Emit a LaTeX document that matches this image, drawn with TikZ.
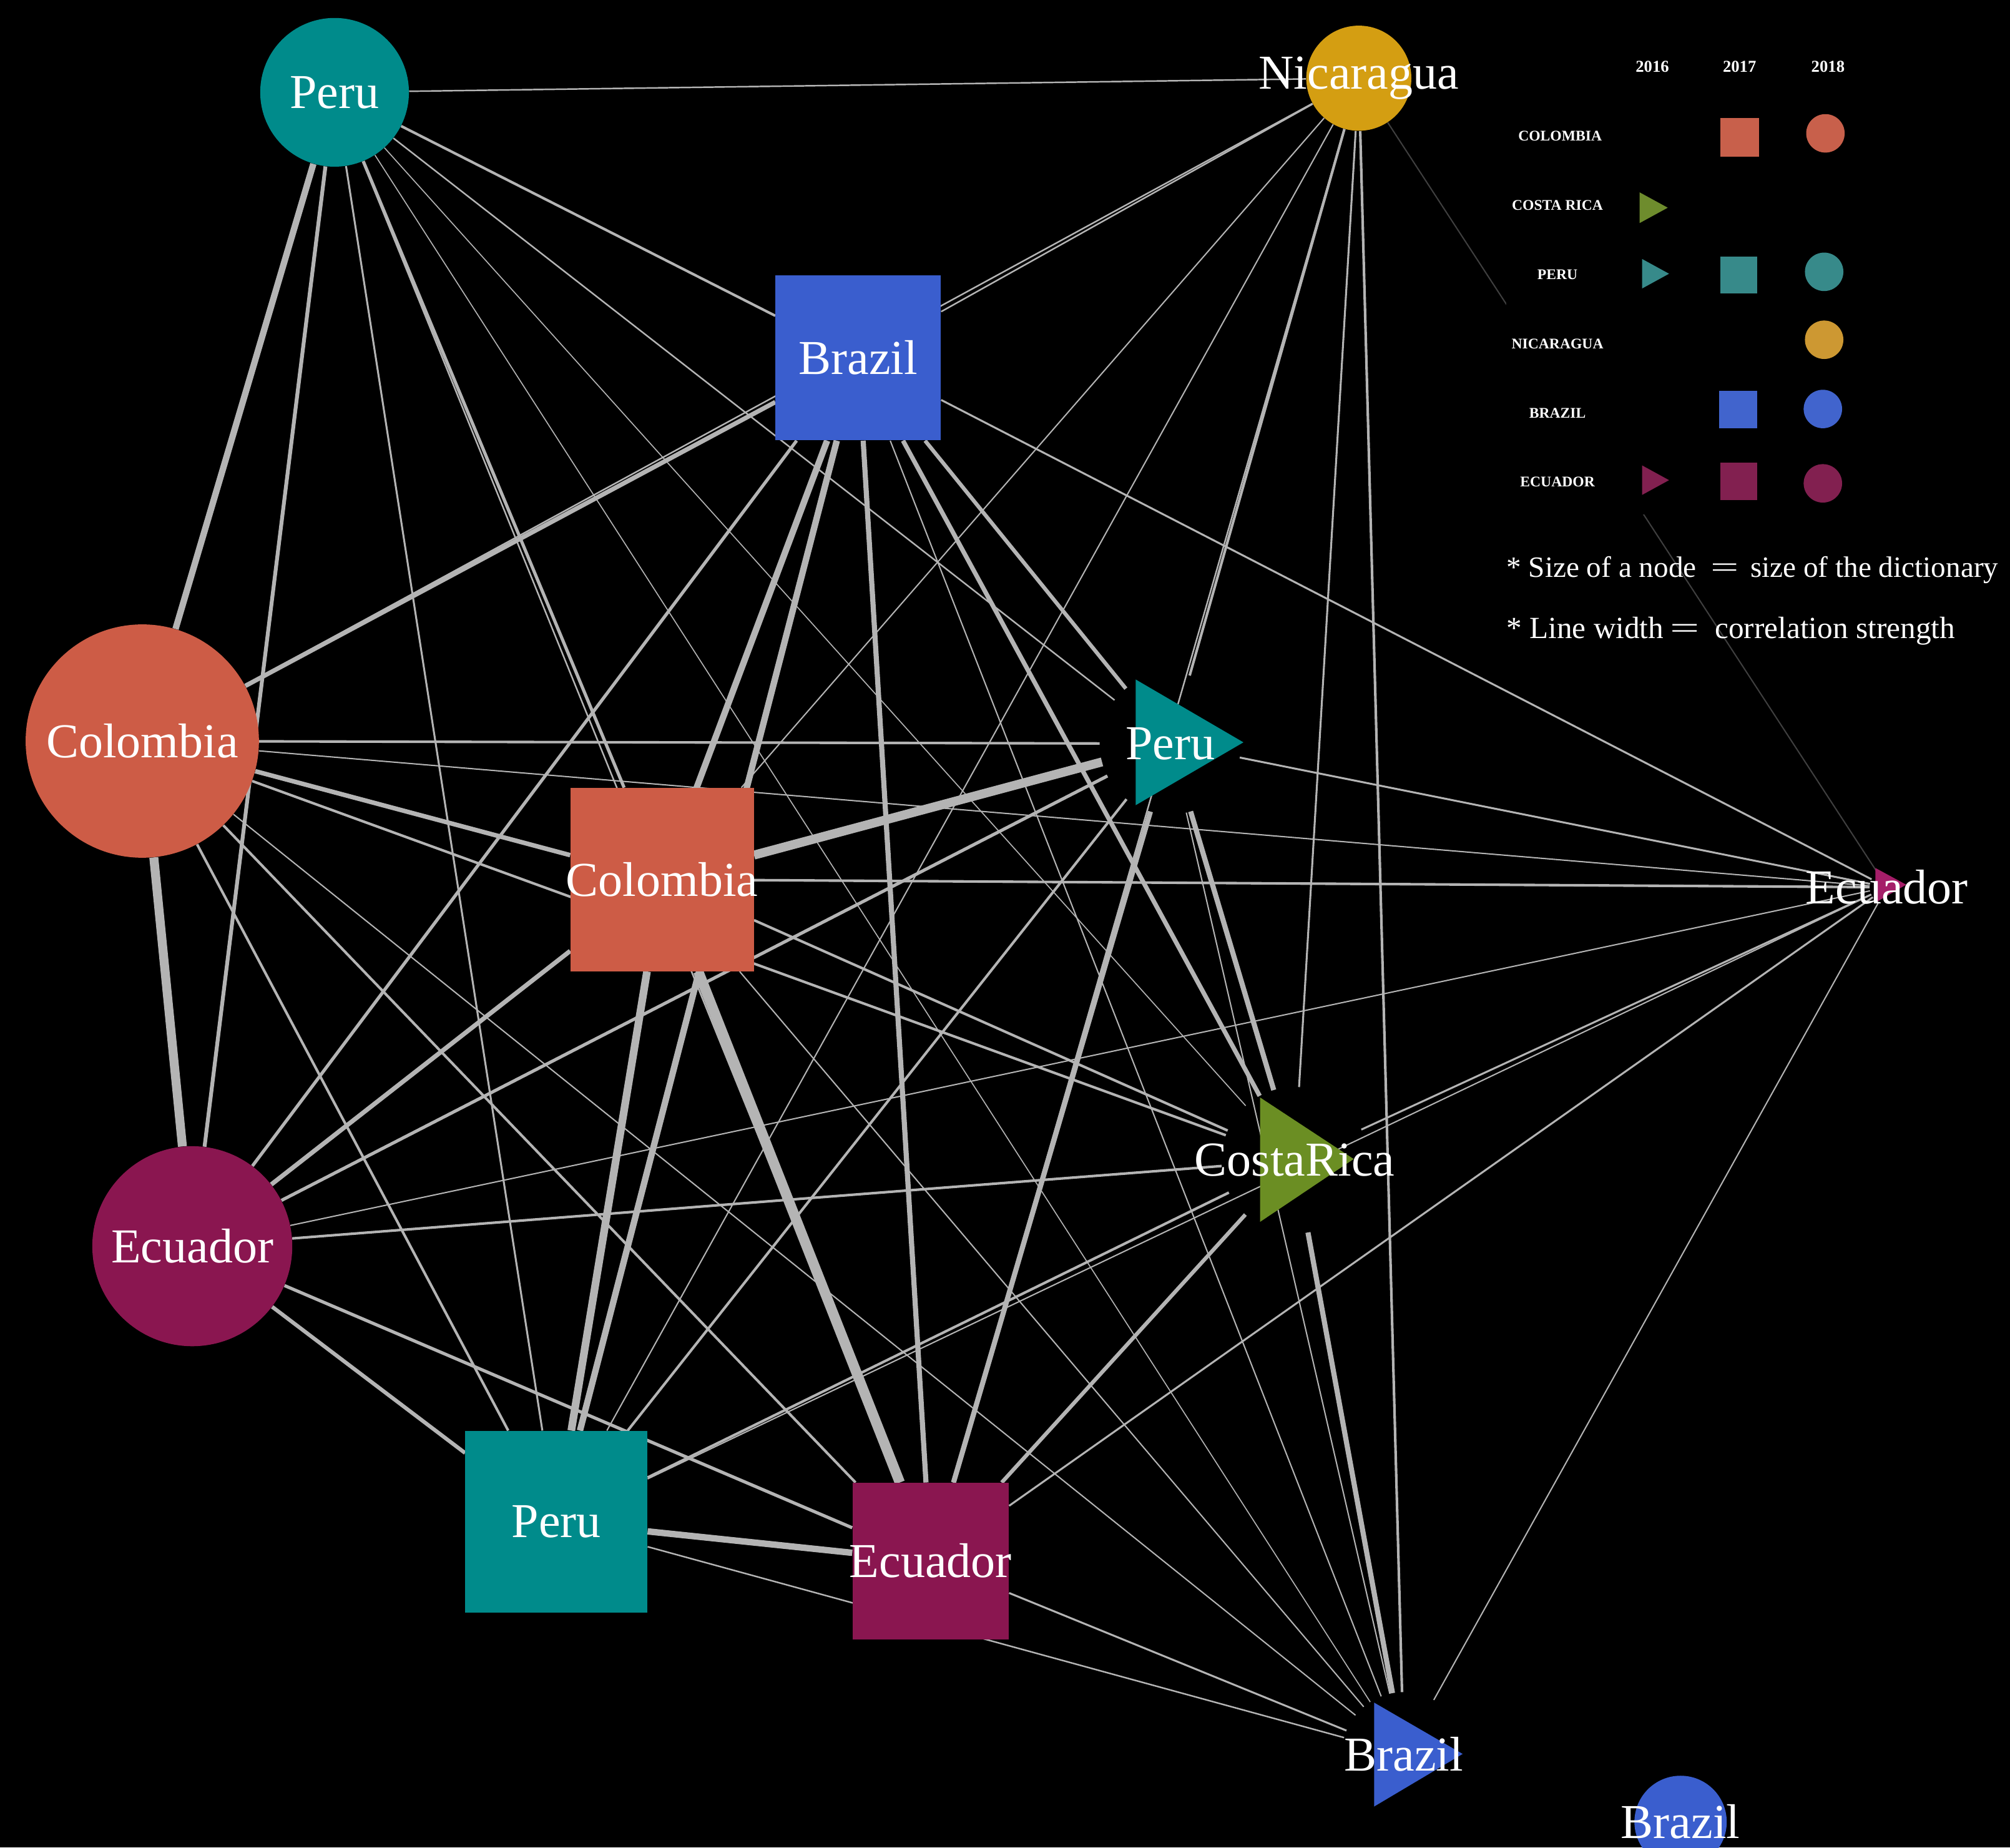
\documentclass[tikz,border=0pt]{standalone}
\usepackage{fontspec}
\setmainfont{Liberation Serif}
\pgfdeclarelayer{bgfill}
\pgfdeclarelayer{edges}
\pgfsetlayers{bgfill,edges,main}
\definecolor{peru}{RGB}{0,139,139}
\definecolor{colombia}{RGB}{205,92,70}
\definecolor{ecuador}{RGB}{138,22,80}
\definecolor{brazil}{RGB}{58,94,206}
\definecolor{nica}{RGB}{212,158,18}
\definecolor{costarica}{RGB}{107,142,35}
\definecolor{ecusix}{RGB}{165,30,105}
\definecolor{lperu}{RGB}{55,138,138}
\definecolor{lcol}{RGB}{200,96,75}
\definecolor{lecu}{RGB}{130,32,80}
\definecolor{lbra}{RGB}{65,100,205}
\definecolor{lnic}{RGB}{205,152,50}
\definecolor{lcr}{RGB}{110,140,45}
\definecolor{edgegray}{RGB}{180,180,180}
\newcommand\nlab[1]{\makebox[0pt]{#1}}
\begin{document}
\begin{tikzpicture}[x=1pt,y=-1pt,
  lbl/.style={text=white,font=\fontsize{38}{40}\selectfont},
  sq/.style={rectangle,inner sep=0pt,lbl},
  rnd/.style={circle,inner sep=0pt,lbl},
  hub/.style={circle,inner sep=0pt,lbl},
  ed/.style={draw=edgegray,line width=#1pt},
  fe/.style={draw=edgegray!35!black,line width=1pt},
  yr/.style={text=white,font=\bfseries\fontsize{13}{15}\selectfont,inner sep=0pt},
  cty/.style={text=white,font=\bfseries\fontsize{11.5}{13}\selectfont,inner sep=0pt},
  note/.style={text=white,font=\fontsize{24}{27}\selectfont,inner sep=0pt}]
\useasboundingbox (0,0) rectangle (1568,1441);
\begin{pgfonlayer}{bgfill}
\fill[black] (0,0) rectangle (1568,1441);
\end{pgfonlayer}

% ---------- graph nodes ----------
\node[rnd,fill=peru,minimum size=116pt] (A) at (261,72) {\nlab{Peru}};
\node[rnd,fill=nica,minimum size=82pt] (N) at (1060,61) {\nlab{Nicaragua}};
\node[sq,fill=brazil,minimum size=129pt] (B7) at (669.5,279) {\nlab{Brazil}};
\node[rnd,fill=colombia,minimum size=182pt] (C8) at (111,578) {\nlab{Colombia}};
\node[sq,fill=colombia,minimum size=143pt] (C7) at (516.5,686) {\nlab{Colombia}};
\node[rnd,fill=ecuador,minimum size=156pt] (E8) at (150,972) {\nlab{Ecuador}};
\node[sq,fill=peru,minimum size=142pt] (P7) at (434,1187) {\nlab{Peru}};
\node[sq,fill=ecuador,minimum size=122pt] (E7) at (726,1217.5) {\nlab{Ecuador}};
\node[rnd,fill=brazil,minimum size=72pt] (B8) at (1311,1421) {\nlab{Brazil}};

\fill[peru] (886,530) -- (886,628) -- (970,579) -- cycle;
\node[hub,minimum size=110pt] (P6) at (913,580) {\nlab{Peru}};
\fill[costarica] (983,856) -- (983,953) -- (1056,904) -- cycle;
\node[hub,minimum size=114pt] (CR) at (1010,905) {\nlab{CostaRica}};
\fill[brazil] (1072,1328) -- (1072,1409) -- (1141,1368) -- cycle;
\node[hub,minimum size=96pt] (B6) at (1095,1368) {\nlab{Brazil}};
\fill[ecusix] (1463,677) -- (1463,704) -- (1487,690) -- cycle;
\node[hub,minimum size=16pt] (E6) at (1472,692) {\nlab{Ecuador}};

% ---------- edges ----------
\begin{pgfonlayer}{edges}
% Peru 2018
\draw[ed=1.2] (A) -- (N);
\draw[ed=5] (A) -- (C8);
\draw[ed=3] (A) -- (E8);
\draw[ed=1.5] (A) -- (P7);
\draw[ed=2.5] (A) -- (C7);
\draw[ed=1.2] (A) -- (E7);
\draw[ed=1.2] (A) -- (P6);
\draw[ed=0.8] (A) -- (CR);
\draw[ed=0.8] (A) -- (B6);
\draw[ed=2] (A) -- (B7);
% Nicaragua
\draw[ed=1.2] (N) -- (C8);
\draw[ed=1.2] (N) -- (B7);
\draw[ed=2] (N) -- (P6);
\draw[ed=1.5] (N) -- (CR);
\draw[ed=2] (N) -- (B6);
\draw[ed=1] (N) -- (C7);
\draw[ed=1] (N) -- (P7);
\draw[ed=1.2] (N) -- (E7);
\draw[fe] (N) -- (E6);
% Brazil 2017
\draw[ed=3.5] (B7) -- (C8);
\draw[ed=2.5] (B7) -- (E8);
\draw[ed=5] (B7) -- (C7);
\draw[ed=5] (B7) -- (P7);
\draw[ed=4] (B7) -- (E7);
\draw[ed=3.5] (B7) -- (CR);
\draw[ed=3] (B7) -- (P6);
\draw[ed=1] (B7) -- (B6);
\draw[ed=1.5] (B7) -- (E6);
% Colombia 2018
\draw[ed=7] (C8) -- (E8);
\draw[ed=2] (C8) -- (P6);
\draw[ed=1] (C8) -- (E6);
\draw[ed=3.5] (C8) -- (C7);
\draw[ed=2] (C8) -- (CR);
\draw[ed=2] (C8) -- (E7);
\draw[ed=2] (C8) -- (P7);
\draw[ed=1] (C8) -- (B6);
% Ecuador 2018
\draw[ed=2.5] (E8) -- (P6);
\draw[ed=2] (E8) -- (CR);
\draw[ed=3.5] (E8) -- (C7);
\draw[ed=3] (E8) -- (P7);
\draw[ed=2.5] (E8) -- (E7);
\draw[ed=1] (E8) -- (E6);
% Colombia 2017
\draw[ed=7] (C7) -- (P6);
\draw[ed=2] (C7) -- (E6);
\draw[ed=2] (C7) -- (CR);
\draw[ed=6] (C7) -- (P7);
\draw[ed=8] (C7) -- (E7);
\draw[ed=1] (C7) -- (B6);
% Peru 2016
\draw[ed=1.5] (P6) -- (E6);
\draw[ed=4] (P6) -- (CR);
\draw[ed=4] (P6) -- (E7);
\draw[ed=2] (P6) -- (P7);
\draw[ed=1] (P6) -- (B6);
% Costa Rica 2016
\draw[ed=1.5] (CR) -- (E6);
\draw[ed=4] (CR) -- (B6);
\draw[ed=3] (CR) -- (E7);
\draw[ed=2] (CR) -- (P7);
% Peru 2017
\draw[ed=5] (P7) -- (E7);
\draw[ed=1.2] (P7) -- (B6);
\draw[ed=1] (P7) -- (E6);
% Ecuador 2017
\draw[ed=1.5] (E7) -- (B6);
\draw[ed=1.5] (E7) -- (E6);
% Brazil 2016
\draw[ed=1] (B6) -- (E6);
% legend panel (black) hides the edges behind it
\fill[black] (1175,0) rectangle (1568,401);
\end{pgfonlayer}

% ---------- legend ----------
\node[yr] (h16) at (1289,52) {2016};
\node[yr] (h17) at (1357,52) {2017};
\node[yr] (h18) at (1426,52) {2018};
\node[cty] (r1) at (1217,106) {COLOMBIA};
\node[cty] (r2) at (1215,160) {COSTA RICA};
\node[cty] (r3) at (1215,214) {PERU};
\node[cty] (r4) at (1215,268) {NICARAGUA};
\node[cty] (r5) at (1215,322) {BRAZIL};
\node[cty] (r6) at (1215,376) {ECUADOR};

\fill[lcol] (1342,92) rectangle (1372,122);
\fill[lcol] (1424,104) circle[radius=15pt];
\fill[lcr] (1279,150) -- (1279,174) -- (1301,162) -- cycle;
\fill[lperu] (1281,202) -- (1281,225) -- (1302,213.5) -- cycle;
\fill[lperu] (1342,200) rectangle (1371,229);
\fill[lperu] (1423,212) circle[radius=15pt];
\fill[lnic] (1423,265) circle[radius=15pt];
\fill[lbra] (1341,305) rectangle (1371,334);
\fill[lbra] (1422,319) circle[radius=15pt];
\fill[lecu] (1281,363) -- (1281,386) -- (1302,374.5) -- cycle;
\fill[lecu] (1342,361) rectangle (1371,390);
\fill[lecu] (1422,377) circle[radius=15pt];

\node[note,font=\fontsize{23}{26}\selectfont,anchor=base west] (t1) at (1175,450) {* Size of a node\hspace{11pt}\scalebox{1.7}[1]{=}\hspace{9pt}size of the dictionary};
\node[note,anchor=base west] (t2) at (1175,498) {* Line width\hspace{5pt}\scalebox{1.7}[1]{=}\hspace{12pt}correlation strength};
\end{tikzpicture}
\end{document}
